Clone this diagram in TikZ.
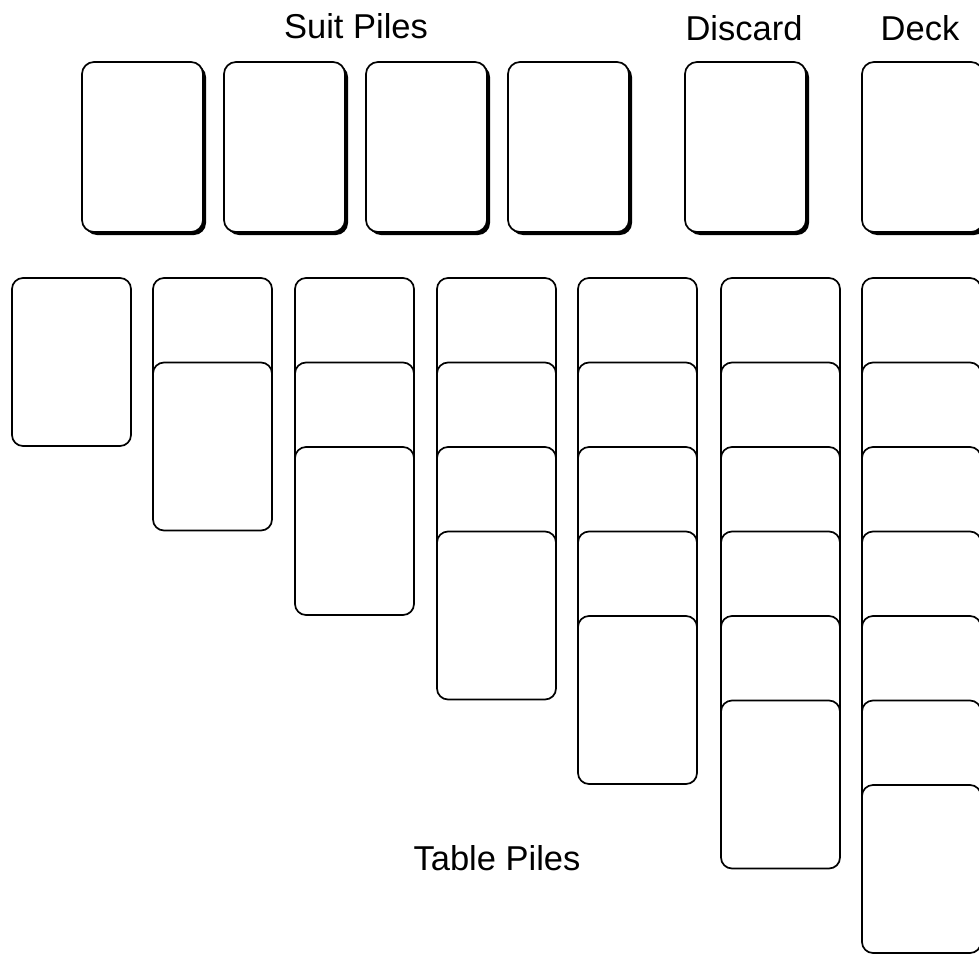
\documentclass[tikz,border=0pt]{standalone}
\usepackage{fontspec}
\setmainfont{Liberation Sans}
\usetikzlibrary{shadows}
\begin{document}
\begin{tikzpicture}[x=1pt,y=-1pt,
  card/.style={draw=black,fill=white,line width=1.7pt,rounded corners=11pt,
    minimum width=119pt,minimum height=168pt,inner sep=0pt,outer sep=0pt,anchor=north west},
  topcard/.style={card,minimum width=121pt,minimum height=170pt,rounded corners=12pt,
    drop shadow={shadow xshift=3pt,shadow yshift=-3pt,fill=black,opacity=1}},
  lbl/.style={font=\fontsize{34.5}{40}\selectfont,inner sep=0pt,anchor=base}]
\useasboundingbox (0,0) rectangle (979,953);
\fill[white] (0,0) rectangle (979,953);
% labels
\node[lbl] (suitlbl) at (356,38) {Suit Piles};
\node[lbl] (disclbl) at (744,40) {Discard};
\node[lbl] (decklbl) at (920,40) {Deck};
\node[lbl] (tablelbl) at (497,870) {Table Piles};
% suit piles
\foreach \x [count=\i] in {82,224,366,508} {
  \node[topcard] (suit\i) at (\x,62) {};
}
\node[topcard] (discard) at (685,62) {};
\node[topcard] (deck) at (862,62) {};
% table piles
\foreach \x [count=\c] in {12,153,295,437,578,721,862} {
  \foreach \k in {1,...,\c} {
    \node[card] (t\c-\k) at (\x,{278+84.5*(\k-1)}) {};
  }
}
\end{tikzpicture}
\end{document}
